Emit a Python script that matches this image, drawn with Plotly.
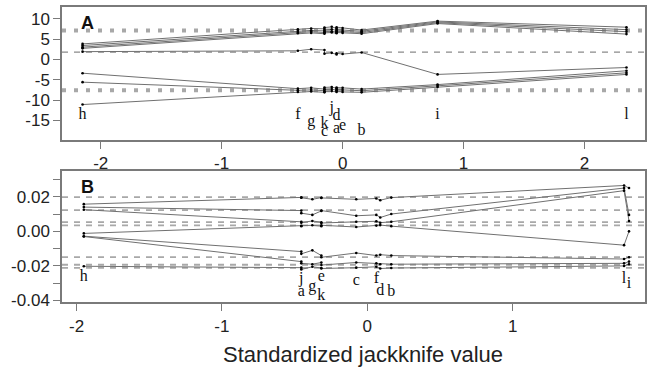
import plotly.graph_objects as go

# ---------------- Panel A data ----------------
letters_A = ["h", "f", "g", "k", "c", "j", "a", "d", "e", "b", "i", "l"]
x_A = [-2.15, -0.37, -0.26, -0.15, -0.15, -0.09, -0.05, -0.05, 0.0, 0.157, 0.785, 2.347]
series_A = [
    [3.8, 7.4, 7.6, 7.5, 7.8, 8.0, 7.6, 7.9, 7.7, 7.2, 9.4, 7.9],
    [3.4, 7.0, 7.1, 7.0, 7.2, 7.4, 7.1, 7.3, 7.2, 6.9, 9.2, 7.3],
    [3.0, 6.7, 6.8, 6.6, 6.8, 6.9, 6.7, 6.9, 6.8, 6.6, 9.0, 6.8],
    [2.7, 6.4, 6.5, 6.3, 6.5, 6.6, 6.4, 6.6, 6.5, 6.3, 8.8, 6.2],
    [1.9, 2.1, 2.5, 2.3, 1.4, 1.6, 1.2, 1.5, 1.3, 1.7, -3.7, -2.0],
    [-3.4, -7.2, -7.0, -7.3, -6.9, -6.8, -7.1, -6.9, -7.0, -7.3, -6.2, -2.8],
    [-5.6, -7.6, -7.5, -7.7, -7.4, -7.3, -7.6, -7.4, -7.5, -7.7, -6.5, -3.3],
    [-11.1, -8.0, -7.9, -8.1, -7.9, -7.8, -8.0, -7.8, -8.0, -8.1, -6.8, -3.7],
]
label_y_A = [-13.7, -13.7, -15.3, -16.0, -17.9, -11.9, -17.0, -14.0, -16.3, -17.5, -13.7, -13.7]
ref_thick_A = [7.1, -7.6]
ref_thin_A = [1.8]
xticks_A = [-2, -1, 0, 1, 2]
xtext_A = ["-2", "-1", "0", "1", "2"]
yticks_A = [-15, -10, -5, 0, 5, 10]
ytext_A = ["-15", "-10", "-5", "0", "5", "10"]

# ---------------- Panel B data ----------------
letters_B = ["h", "j", "a", "g", "e", "k", "c", "f", "d", "b", "l", "i"]
x_B = [-1.95, -0.454, -0.454, -0.378, -0.316, -0.316, -0.076, 0.062, 0.089, 0.165, 1.766, 1.80]
series_B = [
    [0.0157, 0.0196, 0.0194, 0.0185, 0.0195, 0.0193, 0.0185, 0.0190, 0.0180, 0.0195, 0.0265, 0.0250],
    [0.0140, 0.0120, 0.0105, 0.0095, 0.0118, 0.0120, 0.0090, 0.0095, 0.0080, 0.0100, 0.0250, 0.0095],
    [0.0125, 0.0055, 0.0050, 0.0060, 0.0052, 0.0048, 0.0055, 0.0058, 0.0050, 0.0055, 0.0235, 0.0060],
    [-0.0012, 0.0030, 0.0032, 0.0035, 0.0030, 0.0035, 0.0025, 0.0033, 0.0036, 0.0030, -0.0080, 0.0000],
    [-0.0028, -0.0117, -0.0130, -0.0110, -0.0140, -0.0150, -0.0125, -0.0140, -0.0135, -0.0140, -0.0160, -0.0150],
    [-0.0030, -0.0175, -0.0185, -0.0190, -0.0180, -0.0195, -0.0180, -0.0185, -0.0190, -0.0190, -0.0185, -0.0175],
    [-0.0202, -0.0210, -0.0220, -0.0205, -0.0212, -0.0215, -0.0210, -0.0205, -0.0215, -0.0212, -0.0200, -0.0190],
]
label_y_B = [-0.0266, -0.0278, -0.0351, -0.0323, -0.0266, -0.0374, -0.0289, -0.0278, -0.0346, -0.0351, -0.0278, -0.0306]
ref_B = [0.0198, 0.0123, 0.0053, 0.0034, -0.0149, -0.0193, -0.0211]
xticks_B = [-2, -1, 0, 1]
xtext_B = ["-2", "-1", "0", "1"]
yticks_B = [-0.04, -0.03, -0.02, -0.01, 0.0, 0.01, 0.02, 0.03]
ytext_B = ["-0.04", "", "-0.02", "", "0.00", "", "0.02", ""]

W, H = 647, 377
LINE = "#707070"
AX = "#7a7a7a"

fig = go.Figure()

def add_panel(xs, series, letters, label_y, xa, ya):
    for ys in series:
        fig.add_trace(go.Scatter(x=xs, y=ys, mode="lines", xaxis=xa, yaxis=ya,
                                 line=dict(color=LINE, width=1), hoverinfo="skip",
                                 showlegend=False))
    for ys in series:
        fig.add_trace(go.Scatter(x=xs, y=ys, mode="markers", xaxis=xa, yaxis=ya,
                                 marker=dict(color="black", size=2.6, line=dict(width=0)),
                                 showlegend=False))
    fig.add_trace(go.Scatter(x=xs, y=label_y, mode="text", text=letters, xaxis=xa, yaxis=ya,
                             textposition="middle center",
                             textfont=dict(family="Liberation Serif", size=16, color="#111"),
                             showlegend=False))

add_panel(x_A, series_A, letters_A, label_y_A, "x", "y")
add_panel(x_B, series_B, letters_B, label_y_B, "x2", "y2")

shapes = []
for v in ref_thick_A:
    shapes.append(dict(type="line", xref="x domain", yref="y", x0=0, x1=1, y0=v, y1=v,
                       line=dict(color="#a8a8a8", width=4, dash="4px,8px"), layer="below"))
for v in ref_thin_A:
    shapes.append(dict(type="line", xref="x domain", yref="y", x0=0, x1=1, y0=v, y1=v,
                       line=dict(color="#8a8a8a", width=1.3, dash="6px,6px"), layer="below"))
for v in ref_B:
    shapes.append(dict(type="line", xref="x2 domain", yref="y2", x0=0, x1=1, y0=v, y1=v,
                       line=dict(color="#a8a8a8", width=1.8, dash="6px,6px"), layer="below"))

def px_x(p):
    return p / W

def px_y(p):
    return 1 - p / H

tickfont = dict(family="Liberation Sans", size=17, color="#222")
axcommon = dict(showline=True, linecolor=AX, linewidth=1.5, mirror=True, ticks="outside",
                ticklen=7, tickcolor=AX, tickwidth=1.2, showgrid=False, zeroline=False,
                tickfont=tickfont, tickmode="array")

fig.update_layout(
    width=W, height=H,
    margin=dict(l=0, r=0, t=0, b=0),
    paper_bgcolor="white", plot_bgcolor="white",
    shapes=shapes,
    xaxis=dict(domain=[px_x(62), px_x(645)], range=[-2.32, 2.50], anchor="y",
               tickvals=xticks_A, ticktext=xtext_A, **axcommon),
    yaxis=dict(domain=[px_y(143), px_y(7)], range=[-19.8, 12.9], anchor="x",
               tickvals=yticks_A, ticktext=ytext_A, **axcommon),
    xaxis2=dict(domain=[px_x(62), px_x(645)], range=[-2.10, 1.91], anchor="y2",
                tickvals=xticks_B, ticktext=xtext_B, **axcommon),
    yaxis2=dict(domain=[px_y(309), px_y(175)], range=[-0.0411, 0.0347], anchor="x2",
                tickvals=yticks_B, ticktext=ytext_B, **axcommon),
    annotations=[
        dict(text="<b>A</b>", xref="paper", yref="paper", x=px_x(79), y=px_y(11),
             xanchor="left", yanchor="top", showarrow=False,
             font=dict(family="Liberation Sans", size=18, color="#111")),
        dict(text="<b>B</b>", xref="paper", yref="paper", x=px_x(79), y=px_y(179),
             xanchor="left", yanchor="top", showarrow=False,
             font=dict(family="Liberation Sans", size=18, color="#111")),
        dict(text="Standardized jackknife value", xref="paper", yref="paper",
             x=px_x(363), y=px_y(362), xanchor="center", yanchor="middle", showarrow=False,
             font=dict(family="Liberation Sans", size=22, color="#222")),
    ],
)

fig.write_html("out.html")
